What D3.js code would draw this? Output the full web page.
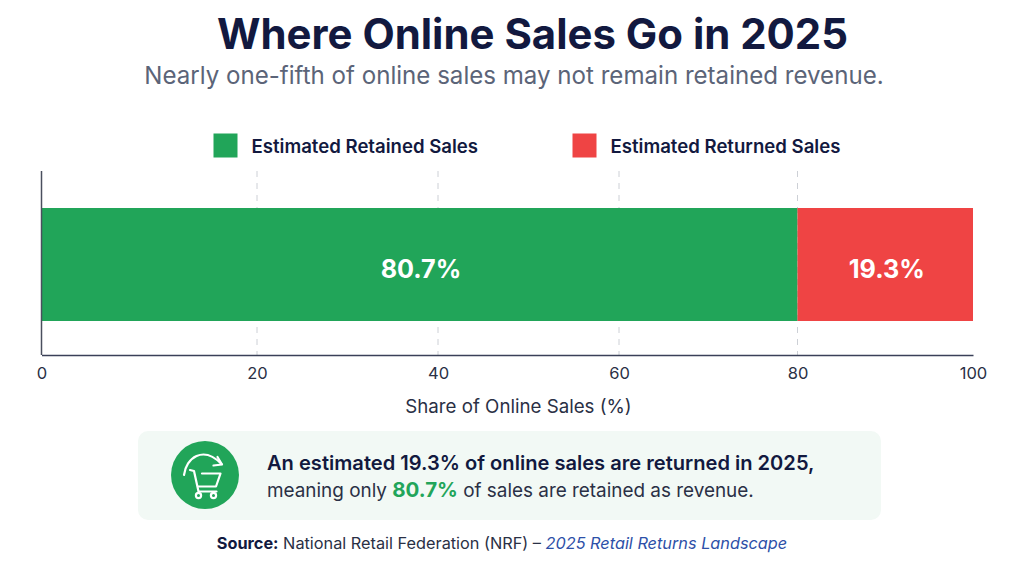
<!DOCTYPE html>
<html>
<head>
<meta charset="utf-8">
<script src="https://cdn.jsdelivr.net/npm/d3@7"></script>
<style>
  html, body { margin: 0; padding: 0; background: #fff; }
  svg { display: block; font-family: Inter, sans-serif; }
</style>
</head>
<body>
<div id="chart"></div>
<script>
const seriesNames = ['Estimated Retained Sales', 'Estimated Returned Sales'];
const seriesColors = ['#21a559', '#ef4444'];
// where each segment ends on the drawn axis (the boundary sits on the 80 tick)
const segmentEnds = [80, 100];
const segmentLabels = ['80.7%', '19.3%'];
const axisTicks = [0, 20, 40, 60, 80, 100];

const navy = '#12193f';
const width = 1024;
const height = 562;

const svg = d3.select('#chart').append('svg')
  .attr('width', width)
  .attr('height', height)
  .attr('viewBox', `0 0 ${width} ${height}`);

// Title
svg.append('text')
  .attr('x', 532.5).attr('y', 49)
  .attr('text-anchor', 'middle')
  .attr('font-size', 41.9).attr('font-weight', 700)
  .attr('fill', navy)
  .text('Where Online Sales Go in 2025');

svg.append('text')
  .attr('x', 514).attr('y', 84)
  .attr('text-anchor', 'middle')
  .attr('font-size', 24.1)
  .attr('fill', '#5b6478')
  .text('Nearly one-fifth of online sales may not remain retained revenue.');

// Legend
const legendX = [213.5, 572.5];
const legend = svg.selectAll('g.legend')
  .data(seriesNames)
  .join('g')
  .attr('class', 'legend')
  .attr('transform', (d, i) => `translate(${legendX[i]},133.5)`);

legend.append('rect')
  .attr('width', 24).attr('height', 24)
  .attr('fill', (d, i) => seriesColors[i]);

legend.append('text')
  .attr('x', 38).attr('y', 19)
  .attr('font-size', 18.6).attr('font-weight', 600)
  .attr('fill', navy)
  .text(d => d);

// The axis in the picture is not evenly spaced, so the scale goes through each tick
const x = d3.scaleLinear()
  .domain(axisTicks)
  .range([41.5, 257, 438, 619, 797.5, 973]);

const plotTop = 171;
const plotBottom = 355;
const barTop = 208;
const barBottom = 321;

// Grid
svg.append('g')
  .selectAll('line')
  .data(axisTicks.slice(1, 5))
  .join('line')
  .attr('x1', d => x(d)).attr('x2', d => x(d))
  .attr('y1', plotTop).attr('y2', plotBottom)
  .attr('stroke', '#cdd0d6')
  .attr('stroke-dasharray', '6 6');

// Bars
svg.append('g')
  .selectAll('rect')
  .data(segmentEnds)
  .join('rect')
  .attr('x', (d, i) => x(i ? segmentEnds[i - 1] : 0))
  .attr('width', (d, i) => x(d) - x(i ? segmentEnds[i - 1] : 0))
  .attr('y', barTop)
  .attr('height', barBottom - barTop)
  .attr('fill', (d, i) => seriesColors[i]);

svg.append('g')
  .selectAll('text')
  .data(segmentEnds)
  .join('text')
  .attr('x', (d, i) => (x(i ? segmentEnds[i - 1] : 0) + x(d)) / 2 + 1.5)
  .attr('y', 278)
  .attr('text-anchor', 'middle')
  .attr('font-size', 25.2).attr('font-weight', 700)
  .attr('fill', '#fff')
  .text((d, i) => segmentLabels[i]);

// Axes
const xAxis = svg.append('g')
  .attr('transform', `translate(0,${plotBottom})`)
  .call(d3.axisBottom(x).tickValues(axisTicks).tickSize(0).tickPadding(12));

xAxis.select('.domain').attr('stroke', '#3a4058').attr('stroke-width', 1.5);
xAxis.selectAll('text')
  .attr('font-family', 'Inter, sans-serif')
  .attr('font-size', 16.5)
  .attr('fill', '#2a3045');

svg.append('line')
  .attr('x1', x(0)).attr('x2', x(0))
  .attr('y1', plotTop).attr('y2', plotBottom)
  .attr('stroke', '#4a4f5e')
  .attr('stroke-width', 1.5);

svg.append('text')
  .attr('x', 518.5).attr('y', 413)
  .attr('text-anchor', 'middle')
  .attr('font-size', 18.7)
  .attr('fill', '#2a3045')
  .text('Share of Online Sales (%)');

// Callout
svg.append('rect')
  .attr('x', 138).attr('y', 431)
  .attr('width', 743).attr('height', 89)
  .attr('rx', 10)
  .attr('fill', '#f2f9f5');

const icon = svg.append('g').attr('transform', 'translate(205,475)');
icon.append('circle').attr('r', 34).attr('fill', '#21a559');

const iconLines = icon.append('g')
  .attr('fill', 'none')
  .attr('stroke', '#fff')
  .attr('stroke-width', 2.2)
  .attr('stroke-linecap', 'round')
  .attr('stroke-linejoin', 'round');

iconLines.append('path').attr('d', 'M-21,0 C-19,-17 -2,-30 16.5,-11');
iconLines.append('path').attr('d', 'M12.5,-18 L17,-10.5 L8.5,-9.5');
iconLines.append('path').attr('d', 'M-15,-5 L-11,-4 L-6.5,16.5 L11.5,16.5');
iconLines.append('path').attr('d', 'M-3,-1.5 L15.5,-1.5 L11,11.5 L-7,11.5');
iconLines.append('circle').attr('cx', -6.5).attr('cy', 20.5).attr('r', 2.6);
iconLines.append('circle').attr('cx', 8.5).attr('cy', 20.5).attr('r', 2.6);

svg.append('text')
  .attr('x', 267).attr('y', 470)
  .attr('font-size', 20.1).attr('font-weight', 600)
  .attr('fill', navy)
  .text('An estimated 19.3% of online sales are returned in 2025,');

const line2 = svg.append('text')
  .attr('x', 267).attr('y', 497)
  .attr('font-size', 18.9)
  .attr('fill', '#2a3045');
line2.append('tspan').text('meaning only ');
line2.append('tspan')
  .attr('font-size', 20.5).attr('font-weight', 700)
  .attr('fill', '#22a55a')
  .text('80.7%');
line2.append('tspan').text(' of sales are retained as revenue.');

// Source
const source = svg.append('text')
  .attr('x', 502).attr('y', 549)
  .attr('text-anchor', 'middle')
  .attr('font-size', 16.3)
  .attr('fill', '#2a3045');
source.append('tspan').attr('font-weight', 700).attr('fill', navy).text('Source:');
source.append('tspan').text(' National Retail Federation (NRF) – ');
source.append('tspan')
  .attr('font-style', 'italic')
  .attr('fill', '#2d50a8')
  .text('2025 Retail Returns Landscape');
</script>
</body>
</html>
